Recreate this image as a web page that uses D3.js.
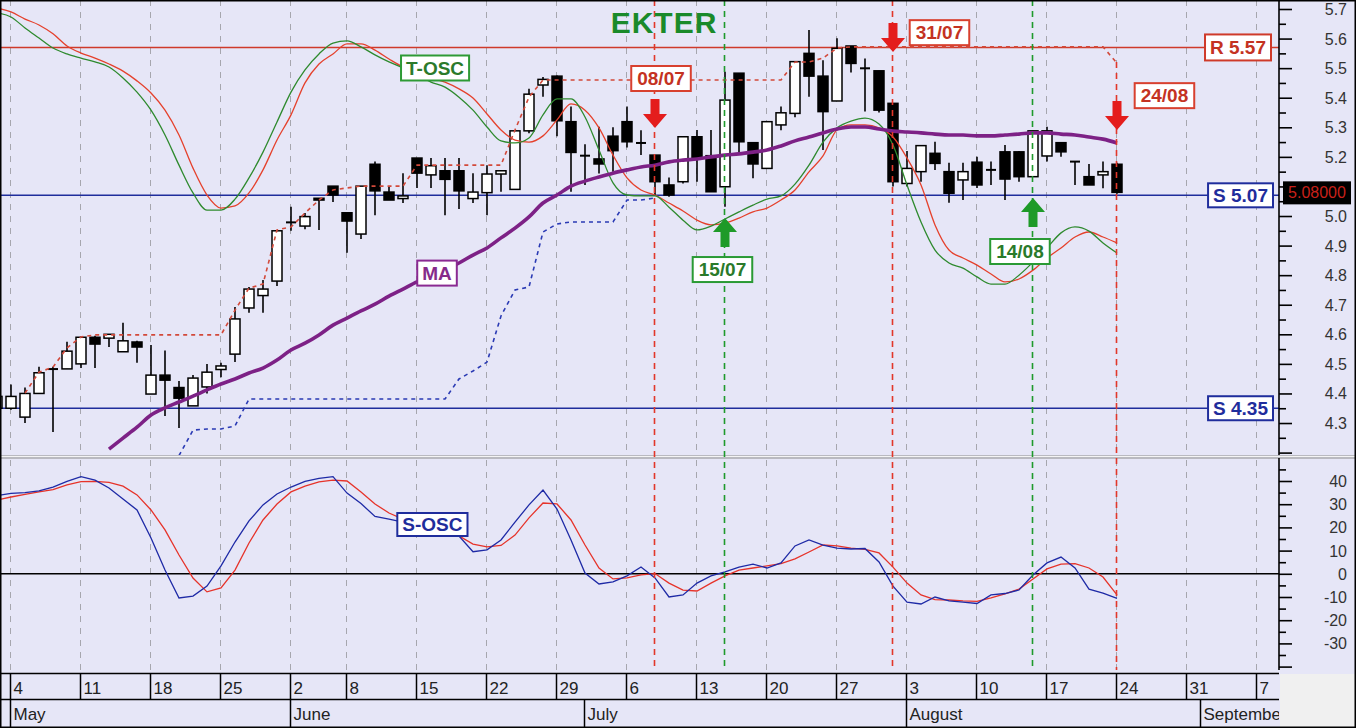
<!DOCTYPE html>
<html><head><meta charset="utf-8">
<script src="https://cdn.jsdelivr.net/npm/d3@7"></script>
<style>
html,body{margin:0;padding:0;background:#fff;}
svg{display:block;}
</style></head><body>
<svg id="chart" width="1356" height="728"></svg>
<script>
// ---------------- DATA ----------------
const firstIndex = -1; // trading-day index of first candle (4 May = 0)
const open  = [4.35,4.35,4.32,4.40,4.48,4.483,4.50,4.59,4.587,4.541,4.574,4.398,4.462,4.42,4.358,4.422,4.481,4.533,4.689,4.731,4.78,4.977,4.966,5.06,5.101,5.011,4.939,5.175,5.081,5.059,5.196,5.139,5.153,5.153,5.059,5.079,5.142,5.09,5.288,5.443,5.473,5.319,5.205,5.193,5.27,5.319,5.248,5.206,5.105,5.116,5.268,5.204,5.099,5.483,5.248,5.161,5.308,5.347,5.55,5.473,5.389,5.575,5.50,5.491,5.381,5.11,5.15,5.212,5.15,5.122,5.182,5.156,5.217,5.217,5.133,5.203,5.248,5.184,5.133,5.139,5.175];
const high  = [4.40,4.43,4.42,4.49,4.49,4.575,4.59,4.595,4.60,4.639,4.578,4.564,4.545,4.442,4.462,4.50,4.504,4.692,4.76,4.784,4.95,5.031,5.01,5.06,5.101,5.011,5.101,5.184,5.10,5.145,5.196,5.196,5.196,5.196,5.145,5.172,5.153,5.288,5.43,5.47,5.475,5.37,5.243,5.302,5.30,5.37,5.29,5.206,5.13,5.268,5.291,5.291,5.488,5.483,5.248,5.319,5.37,5.522,5.629,5.527,5.601,5.575,5.533,5.491,5.381,5.22,5.238,5.251,5.18,5.18,5.20,5.184,5.24,5.22,5.288,5.302,5.248,5.184,5.176,5.184,5.18];
const low   = [4.34,4.345,4.30,4.40,4.27,4.483,4.486,4.486,4.557,4.541,4.504,4.398,4.324,4.283,4.358,4.40,4.455,4.506,4.673,4.673,4.763,4.95,4.955,4.953,5.047,4.876,4.922,5.003,5.054,5.044,5.095,5.095,5.003,5.024,5.044,5.003,5.082,5.09,5.28,5.403,5.27,5.082,5.105,5.144,5.15,5.232,5.206,5.07,5.065,5.11,5.116,5.082,5.031,5.213,5.128,5.161,5.29,5.334,5.403,5.223,5.389,5.485,5.353,5.35,5.10,5.10,5.116,5.156,5.045,5.054,5.095,5.105,5.054,5.116,5.133,5.184,5.20,5.105,5.105,5.094,5.075];
const close = [4.39,4.39,4.40,4.47,4.485,4.543,4.59,4.567,4.60,4.578,4.557,4.462,4.445,4.384,4.452,4.472,4.493,4.652,4.753,4.753,4.95,4.98,4.998,5.054,5.071,4.983,5.101,5.085,5.054,5.068,5.145,5.17,5.124,5.085,5.081,5.142,5.153,5.288,5.412,5.462,5.322,5.215,5.203,5.176,5.221,5.251,5.246,5.116,5.071,5.268,5.195,5.082,5.392,5.251,5.176,5.319,5.349,5.522,5.473,5.353,5.567,5.516,5.499,5.358,5.116,5.161,5.238,5.178,5.077,5.15,5.105,5.156,5.125,5.133,5.288,5.288,5.217,5.184,5.105,5.15,5.08];

// T-OSC (drawn on price panel), start at firstIndex
const tOscFast = [5.687,5.673,5.636,5.602,5.568,5.548,5.534,5.521,5.504,5.467,5.419,5.358,5.274,5.172,5.078,5.020,5.020,5.057,5.129,5.216,5.318,5.419,5.494,5.548,5.585,5.592,5.572,5.545,5.521,5.501,5.477,5.453,5.436,5.402,5.358,5.301,5.254,5.247,5.264,5.342,5.396,5.396,5.335,5.223,5.112,5.071,5.068,5.068,5.030,4.986,4.953,4.966,4.990,5.014,5.037,5.057,5.068,5.108,5.172,5.250,5.298,5.321,5.331,5.311,5.240,5.105,4.980,4.885,4.841,4.824,4.794,4.770,4.770,4.800,4.844,4.892,4.943,4.963,4.949,4.909,4.875];
const tOscSlow = [5.703,5.690,5.666,5.646,5.616,5.575,5.551,5.534,5.514,5.490,5.457,5.416,5.358,5.274,5.162,5.071,5.027,5.034,5.078,5.156,5.257,5.342,5.450,5.514,5.548,5.582,5.582,5.561,5.531,5.504,5.487,5.467,5.453,5.430,5.399,5.345,5.291,5.257,5.250,5.271,5.325,5.379,5.358,5.298,5.206,5.129,5.088,5.071,5.044,5.017,4.986,4.970,4.976,4.993,5.014,5.027,5.054,5.088,5.149,5.203,5.291,5.308,5.308,5.298,5.267,5.196,5.105,4.970,4.885,4.858,4.834,4.804,4.777,4.787,4.817,4.858,4.892,4.929,4.946,4.929,4.909];

// Moving average, starts at index 7
const maStart = 7;
const maValues = [4.212,4.249,4.286,4.327,4.351,4.371,4.391,4.412,4.432,4.449,4.469,4.486,4.513,4.547,4.570,4.598,4.631,4.655,4.679,4.702,4.729,4.753,4.777,4.797,4.817,4.841,4.868,4.892,4.926,4.959,4.997,5.044,5.071,5.101,5.118,5.132,5.145,5.156,5.166,5.172,5.183,5.189,5.193,5.200,5.206,5.210,5.216,5.223,5.237,5.254,5.267,5.281,5.294,5.301,5.301,5.294,5.287,5.284,5.281,5.277,5.274,5.274,5.271,5.271,5.274,5.277,5.281,5.281,5.277,5.274,5.267,5.260,5.247];

// Upper trailing stop (red dashed), starts at index 1
const upperStopStart = 1;
const upperStop = [4.401,4.472,4.489,4.554,4.591,4.598,4.598,4.598,4.598,4.598,4.598,4.598,4.598,4.598,4.598,4.682,4.756,4.770,4.953,4.963,5.010,5.054,5.088,5.095,5.101,5.101,5.101,5.101,5.172,5.172,5.172,5.172,5.172,5.172,5.172,5.291,5.402,5.460,5.460,5.460,5.460,5.460,5.460,5.460,5.460,5.460,5.460,5.460,5.460,5.460,5.460,5.460,5.460,5.460,5.460,5.521,5.521,5.534,5.568,5.572,5.572,5.572,5.572,5.572,5.572,5.572,5.572,5.572,5.572,5.572,5.572,5.572,5.572,5.572,5.572,5.572,5.572,5.572,5.517];

// Lower trailing stop (blue dotted), starts at index 12
const lowerStopStart = 12;
const lowerStop = [4.19,4.276,4.280,4.280,4.290,4.381,4.381,4.381,4.381,4.381,4.381,4.381,4.381,4.381,4.381,4.381,4.381,4.381,4.381,4.381,4.449,4.476,4.506,4.662,4.750,4.760,4.946,4.973,4.980,4.980,4.980,4.980,5.054,5.054,5.061];

// S-OSC (lower panel), start at firstIndex
const sOscFast = [33.7,34.7,35.0,35.7,37.4,39.8,41.9,40.4,37.0,32.2,27.5,15.4,1.6,-10.4,-9.6,-5.3,3.4,13.7,22.8,29.7,34.4,37.4,39.8,41.1,41.9,34.8,30.3,24.7,23.6,22.3,19.7,18.9,18.0,16.3,9.5,10.3,14.6,22.3,29.7,36.1,27.9,14.6,0.3,-4.4,-3.5,-0.9,2.9,-1.8,-10.0,-9.1,-4.0,-0.9,0.8,2.9,4.2,2.5,4.7,12.0,14.6,12.4,11.1,10.7,10.9,5.1,-5.3,-12.2,-13.0,-10.0,-11.7,-12.2,-12.8,-9.1,-8.5,-7.0,-0.5,4.7,7.2,2.5,-6.6,-8.3,-10.6];
const sOscSlow = [31.8,33.1,34.2,35.3,36.3,38.3,39.7,39.8,39.4,37.8,34.0,27.5,18.9,8.1,-1.8,-7.8,-6.1,1.6,13.3,23.2,30.1,35.3,37.8,39.6,40.4,40.0,35.3,30.1,26.2,23.6,21.5,18.9,17.6,16.3,12.8,11.6,12.2,16.7,24.1,30.5,30.1,23.2,12.4,2.5,-2.2,-1.8,-0.5,0.1,-4.0,-7.0,-7.4,-4.0,-0.9,1.6,2.5,3.4,4.4,6.4,9.4,12.4,12.0,11.1,10.5,9.0,2.9,-4.0,-9.1,-11.1,-11.3,-11.7,-11.9,-10.4,-8.7,-6.6,-2.2,2.1,4.2,4.4,2.5,-1.4,-9.1];

// Levels
const resistanceLevels = [5.57];
const supportLevels = [5.07, 4.35];
const lastPrice = 5.08;

// Signals
const signalIdx    = [46, 51, 63, 73, 79];
const signalType   = ["sell","buy","sell","buy","sell"];
const signalLabels = ["08/07","15/07","31/07","14/08","24/08"];
const signalArrowTip = [5.298, 4.993, 5.555, 5.061, 5.291];
const signalLabelIdx = [46.43, 50.82, 66.32, 72.07, 82.39];
const signalLabelPrice = [5.465, 4.819, 5.62, 4.88, 5.407];

// Axis ticks
const weekTickIdx    = [0,5,10,15,20,24,29,34,39,44,49,54,59,64,69,74,79,84,89];
const weekTickLabels = ["4","11","18","25","2","8","15","22","29","6","13","20","27","3","10","17","24","31","7"];
const monthIdx    = [0,20,41,64,85];
const monthLabels = ["May","June","July","August","September"];
const priceMajorTicks = [4.2,4.3,4.4,4.5,4.6,4.7,4.8,4.9,5.0,5.1,5.2,5.3,5.4,5.5,5.6,5.7];
const priceHiddenLabels = [4.2, 5.1]; // 5.1 label is covered by the last-price tag
const oscMajorTicks = [-40,-30,-20,-10,0,10,20,30,40];
const title = "EKTER";

// ---------------- DRAW ----------------
const FONT = '"Liberation Sans", Arial, Helvetica, sans-serif';
const W = 1356, H = 728, PR = 1279;
const BG = "#e6e6f7";
const upTop = 0, upBot = 455, loTop = 460, loBot = 670;

const svg = d3.select("#chart").attr("font-family", FONT);
svg.append("rect").attr("width", W).attr("height", H).attr("fill", BG);
svg.append("rect").attr("x", PR + 1).attr("y", 674).attr("width", W - PR - 1).attr("height", H - 674).attr("fill", "#f0f0f0");

const x = d3.scaleLinear().domain([-11/14, 1268/14]).range([0, PR]);
const yP = d3.scaleLinear().domain([4.2, 5.7]).range([452.6, 9]);
const yO = d3.scaleLinear().domain([-40, 40]).range([666.6, 481]);

const defs = svg.append("defs");
defs.append("clipPath").attr("id","clipUp").append("rect").attr("x",0).attr("y",upTop).attr("width",PR).attr("height",upBot-upTop);
defs.append("clipPath").attr("id","clipLo").append("rect").attr("x",0).attr("y",loTop).attr("width",PR).attr("height",loBot-loTop);
defs.append("clipPath").attr("id","clipDate").append("rect").attr("x",0).attr("y",670).attr("width",PR).attr("height",60);

// separator between panels
svg.append("rect").attr("x",0).attr("y",455).attr("width",W).attr("height",4).attr("fill","#b9b9c0");
svg.append("line").attr("x1",0).attr("x2",W).attr("y1",456.5).attr("y2",456.5).attr("stroke","#f4f4f4").attr("stroke-width",1);

// grid
const grid = svg.append("g");
weekTickIdx.forEach(i => {
  const gx = Math.round(x(i)) - 0.5;
  if (gx > PR) return;
  [[upTop, upBot],[loTop, loBot]].forEach(([a,b]) => {
    grid.append("line").attr("x1",gx).attr("x2",gx).attr("y1",a).attr("y2",b)
      .attr("stroke","#a6a6ae").attr("stroke-width",1).attr("stroke-dasharray","6,6");
  });
});

const up = svg.append("g").attr("clip-path","url(#clipUp)");
const lo = svg.append("g").attr("clip-path","url(#clipLo)");

// level lines
resistanceLevels.forEach(v => up.append("line").attr("x1",0).attr("x2",PR).attr("y1",yP(v)).attr("y2",yP(v)).attr("stroke","#cf3a2a").attr("stroke-width",1.5));
supportLevels.forEach(v => up.append("line").attr("x1",0).attr("x2",PR).attr("y1",yP(v)).attr("y2",yP(v)).attr("stroke","#1f2d9c").attr("stroke-width",1.5));

// zero line lower panel
lo.append("line").attr("x1",0).attr("x2",PR).attr("y1",yO(0)).attr("y2",yO(0)).attr("stroke","#000").attr("stroke-width",1.5);

// candles
const candles = open.map((o,k) => ({i: firstIndex + k, o, h: high[k], l: low[k], c: close[k]}));
const cg = up.append("g");
candles.forEach(d => {
  const cx = x(d.i);
  cg.append("line").attr("x1",cx).attr("x2",cx).attr("y1",yP(d.h)).attr("y2",yP(d.l)).attr("stroke","#000").attr("stroke-width",1.6);
  const top = yP(Math.max(d.o,d.c)), bot = yP(Math.min(d.o,d.c));
  if (bot - top < 1.5) {
    cg.append("line").attr("x1",cx-5).attr("x2",cx+5).attr("y1",(top+bot)/2).attr("y2",(top+bot)/2).attr("stroke","#000").attr("stroke-width",2);
  } else {
    cg.append("rect").attr("x",cx-5).attr("y",top).attr("width",10).attr("height",bot-top)
      .attr("fill", d.c >= d.o ? "#ffffff" : "#000000").attr("stroke","#000").attr("stroke-width",1.5);
  }
});

function series(arr, start) { return arr.map((v,k) => ({i: start + k, v})); }
const lineP = d3.line().x(d => x(d.i)).y(d => yP(d.v));
const lineO = d3.line().x(d => x(d.i)).y(d => yO(d.v));
const lineSmooth = d3.line().x(d => x(d.i)).y(d => yP(d.v)).curve(d3.curveMonotoneX);

up.append("path").datum(series(tOscSlow, firstIndex)).attr("d", lineSmooth).attr("fill","none").attr("stroke","#e5412c").attr("stroke-width",1.3);
up.append("path").datum(series(tOscFast, firstIndex)).attr("d", lineSmooth).attr("fill","none").attr("stroke","#2e8a2e").attr("stroke-width",1.3);
up.append("path").datum(series(upperStop, upperStopStart)).attr("d", lineP).attr("fill","none").attr("stroke","#d2493a").attr("stroke-width",1.6).attr("stroke-dasharray","4,4");
up.append("path").datum(series(lowerStop, lowerStopStart)).attr("d", lineP).attr("fill","none").attr("stroke","#2a3ab4").attr("stroke-width",1.6).attr("stroke-dasharray","4,4");
up.append("path").datum(series(maValues, maStart)).attr("d", lineSmooth).attr("fill","none").attr("stroke","#7d2186").attr("stroke-width",3.6);

lo.append("path").datum(series(sOscSlow, firstIndex)).attr("d", lineO).attr("fill","none").attr("stroke","#e6332a").attr("stroke-width",1.3);
lo.append("path").datum(series(sOscFast, firstIndex)).attr("d", lineO).attr("fill","none").attr("stroke","#1e2aa6").attr("stroke-width",1.3);

// signal vertical lines
signalIdx.forEach((si,k) => {
  const sx = Math.round(x(si)) - 0.5;
  const col = signalType[k] === "sell" ? "#e2372a" : "#1f9a2c";
  const y0 = k === 4 ? 62 : 0;
  svg.append("line").attr("x1",sx).attr("x2",sx).attr("y1",y0).attr("y2",loBot)
    .attr("stroke",col).attr("stroke-width",1.6).attr("stroke-dasharray","6,5");
});

// arrows
signalIdx.forEach((si,k) => {
  const cx = x(si), tip = yP(signalArrowTip[k]);
  const sell = signalType[k] === "sell";
  const dir = sell ? -1 : 1;
  const L = 29, HL = 14, sw = 4.5, hw = 12;
  const p = d3.path();
  p.moveTo(cx - sw, tip + dir*L); p.lineTo(cx + sw, tip + dir*L);
  p.lineTo(cx + sw, tip + dir*HL); p.lineTo(cx + hw, tip + dir*HL);
  p.lineTo(cx, tip); p.lineTo(cx - hw, tip + dir*HL); p.lineTo(cx - sw, tip + dir*HL); p.closePath();
  svg.append("path").attr("d", p.toString()).attr("fill", sell ? "#e41d1d" : "#1e9a28");
});

// boxed labels
function boxLabel(text, cx, cy, color, textColor, opts = {}) {
  const fs = opts.fs || 19, h = opts.h || 25, padX = opts.padX || 5;
  const g = svg.append("g");
  const rect = g.append("rect");
  const t = g.append("text").text(text).attr("font-size",fs).attr("font-weight","bold")
    .attr("fill",textColor).attr("text-anchor","middle").attr("x",cx).attr("y",cy + fs*0.36);
  const w = t.node().getComputedTextLength() + 2*padX;
  let left = cx - w/2;
  if (opts.right !== undefined) { left = opts.right - w; t.attr("x", left + w/2); }
  rect.attr("x",left).attr("y",cy - h/2).attr("width",w).attr("height",h)
    .attr("fill","#ffffff").attr("stroke",color).attr("stroke-width",2);
}

signalIdx.forEach((si,k) => {
  const sell = signalType[k] === "sell";
  boxLabel(signalLabels[k], x(signalLabelIdx[k]), yP(signalLabelPrice[k]),
    sell ? "#d8402f" : "#2a9a34", sell ? "#c43222" : "#2a7a2a", {padX: 6});
});

boxLabel("T-OSC", x(30.29), yP(5.5005), "#2e9a35", "#2b7a2b");
boxLabel("MA", x(30.43), yP(4.807), "#8a2a92", "#862a8a", {h: 25});
boxLabel("S-OSC", x(30.1), yO(21.25), "#1f2d9c", "#1f2d9c", {h: 23});

resistanceLevels.forEach(v => boxLabel("R " + v.toFixed(2), 0, yP(v), "#cf3a2a", "#c43222", {right: 1271, h: 26}));
supportLevels.forEach(v => boxLabel("S " + v.toFixed(2), 0, yP(v), "#1f2d9c", "#1f2d9c", {right: 1273, h: 24}));

// title
svg.append("text").text(title).attr("x",664).attr("y",33).attr("text-anchor","middle")
  .attr("font-size",30).attr("font-weight","bold").attr("fill","#1a8a2a").attr("letter-spacing",1);

// ---------------- AXES ----------------
const axG = svg.append("g").attr("transform",`translate(${PR},0)`);
axG.append("line").attr("x1",0).attr("x2",0).attr("y1",0).attr("y2",upBot).attr("stroke","#000").attr("stroke-width",1.6);
axG.append("line").attr("x1",0).attr("x2",0).attr("y1",loTop-2).attr("y2",loBot).attr("stroke","#000").attr("stroke-width",1.6);

const priceMinor = d3.range(4.25, 5.7, 0.1).map(v => +v.toFixed(2));
const gMinP = axG.append("g").call(d3.axisRight(yP).tickValues(priceMinor).tickSize(7).tickSizeOuter(0).tickFormat(""));
const gMajP = axG.append("g").call(d3.axisRight(yP).tickValues(priceMajorTicks).tickSize(13).tickSizeOuter(0)
  .tickFormat(d => priceHiddenLabels.some(h => Math.abs(h - d) < 1e-6) ? "" : d3.format(".1f")(d)));
const oscMinor = [-35,-25,-15,-5,5,15,25,35,45];
const gMinO = axG.append("g").call(d3.axisRight(yO).tickValues(oscMinor).tickSize(7).tickSizeOuter(0).tickFormat(""));
const gMajO = axG.append("g").call(d3.axisRight(yO).tickValues(oscMajorTicks).tickSize(13).tickSizeOuter(0)
  .tickFormat(d => d < -35 ? "" : String(d)));
[gMinP, gMajP, gMinO, gMajO].forEach(g => {
  g.attr("font-family", FONT);
  g.select(".domain").remove();
  g.selectAll(".tick line").attr("stroke","#000").attr("stroke-width",1.6);
  g.selectAll(".tick text").attr("x",68).attr("text-anchor","end").attr("font-size",16).attr("fill","#333").attr("dy","0.34em");
});

// last price tag
const lpY = yP(lastPrice);
svg.append("rect").attr("x",1283).attr("y",lpY-11).attr("width",68).attr("height",23).attr("fill","#000");
svg.append("text").text(lastPrice.toFixed(5)).attr("x",1317).attr("y",lpY+6).attr("text-anchor","middle")
  .attr("font-size",16).attr("fill","#c8201a");

// date axis
const dg = svg.append("g").attr("clip-path","url(#clipDate)");
dg.append("line").attr("x1",0).attr("x2",PR).attr("y1",673.5).attr("y2",673.5).attr("stroke","#000").attr("stroke-width",1.5);
dg.append("line").attr("x1",0).attr("x2",PR).attr("y1",699.5).attr("y2",699.5).attr("stroke","#000").attr("stroke-width",1.5);
weekTickIdx.forEach((i,k) => {
  const tx = Math.round(x(i)) - 0.5;
  dg.append("line").attr("x1",tx).attr("x2",tx).attr("y1",673.5).attr("y2",699.5).attr("stroke","#000").attr("stroke-width",1.5);
  dg.append("text").text(weekTickLabels[k]).attr("x",tx+3).attr("y",694).attr("font-size",17).attr("fill","#222");
});
monthIdx.forEach((i,k) => {
  const tx = Math.round(x(i)) - 0.5;
  dg.append("line").attr("x1",tx).attr("x2",tx).attr("y1",699.5).attr("y2",727).attr("stroke","#000").attr("stroke-width",1.5);
  dg.append("text").text(monthLabels[k]).attr("x",tx+3).attr("y",720).attr("font-size",17).attr("fill","#222");
});

// outer border
svg.append("rect").attr("x",0.75).attr("y",0.75).attr("width",W-1.5).attr("height",H-1.5).attr("fill","none").attr("stroke","#000").attr("stroke-width",1.5);
</script>
</body></html>
